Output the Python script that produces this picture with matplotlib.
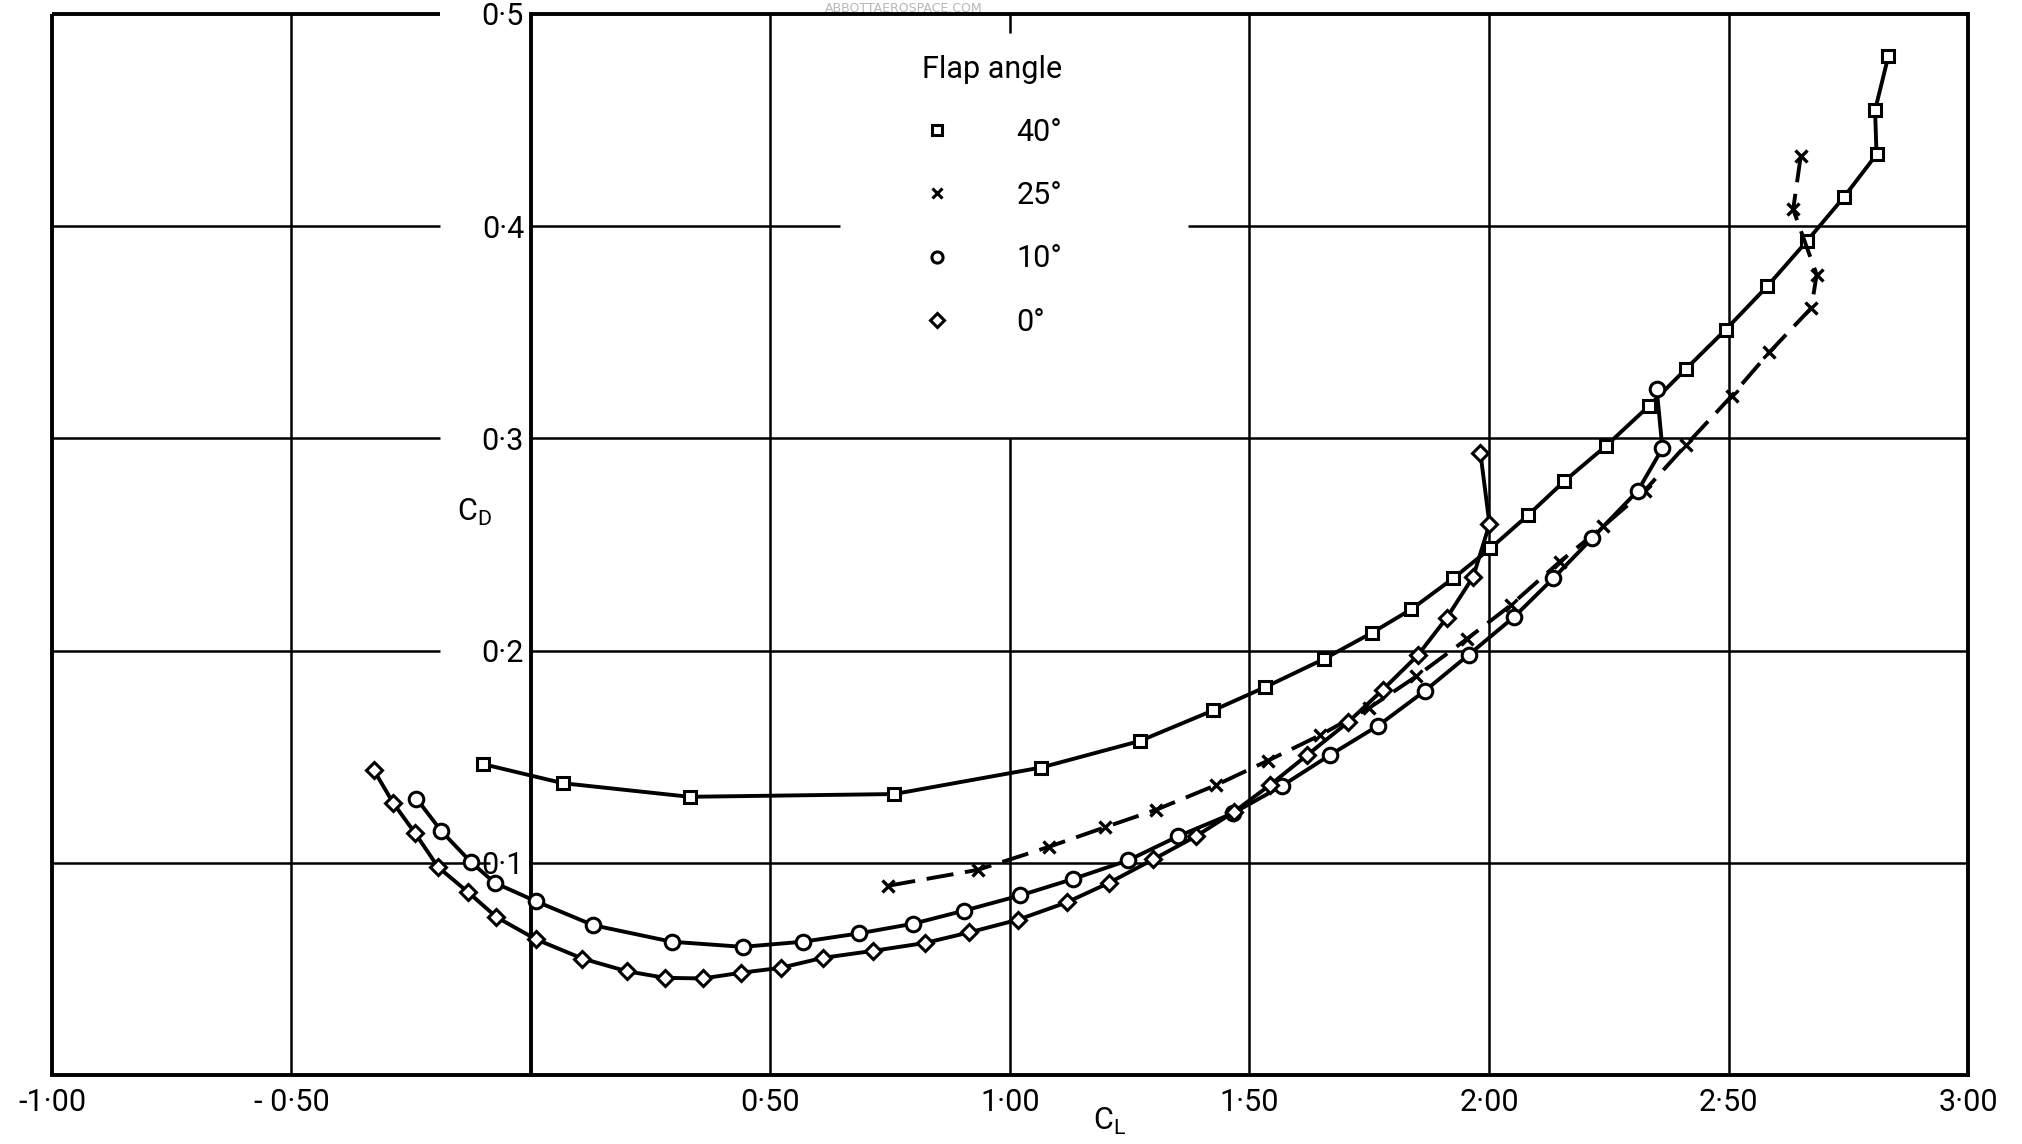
import matplotlib.pyplot as plt
from matplotlib.lines import Line2D

plt.rcParams['font.family'] = ['Roboto', 'DejaVu Sans']
plt.rcParams['mathtext.default'] = 'regular'

# lift / drag readings for each flap angle
cl_40 = [-0.100, 0.067, 0.331, 0.758, 1.065, 1.271, 1.424, 1.533, 1.656, 1.755, 1.838, 1.925,
         2.003, 2.081, 2.157, 2.244, 2.334, 2.411, 2.494, 2.581, 2.663, 2.741, 2.809, 2.806, 2.834]
cd_40 = [0.1465, 0.1375, 0.1311, 0.1324, 0.1449, 0.1574, 0.1718, 0.1828, 0.1961, 0.2083, 0.2195, 0.234,
         0.2482, 0.2637, 0.2798, 0.2964, 0.3153, 0.3327, 0.3512, 0.3717, 0.3928, 0.4137, 0.4338, 0.4547, 0.4804]

cl_25 = [0.746, 0.933, 1.081, 1.199, 1.305, 1.431, 1.539, 1.648, 1.750, 1.848, 1.954,
         2.045, 2.148, 2.238, 2.325, 2.411, 2.507, 2.585, 2.673, 2.684, 2.635, 2.651]
cd_25 = [0.0892, 0.0967, 0.1075, 0.1168, 0.125, 0.1367, 0.1482, 0.1602, 0.1730, 0.1878, 0.2055,
         0.2213, 0.2419, 0.2585, 0.2754, 0.2968, 0.3201, 0.3405, 0.3615, 0.3772, 0.4079, 0.4333]

cl_10 = [-0.239, -0.187, -0.126, -0.076, 0.010, 0.130, 0.294, 0.442, 0.567, 0.684, 0.798, 0.905, 1.021, 1.132,
         1.247, 1.351, 1.466, 1.568, 1.669, 1.769, 1.866, 1.958, 2.052, 2.134, 2.215, 2.311, 2.362, 2.350]
cd_10 = [0.1303, 0.1149, 0.1005, 0.0906, 0.0819, 0.0706, 0.0628, 0.0604, 0.0628, 0.0667, 0.0713, 0.0775, 0.0846, 0.0924,
         0.1012, 0.1125, 0.1234, 0.1363, 0.1509, 0.1647, 0.1810, 0.1981, 0.2158, 0.234, 0.2529, 0.2754, 0.2953, 0.3235]

cl_0 = [-0.328, -0.288, -0.242, -0.194, -0.132, -0.072, 0.010, 0.107, 0.200, 0.280, 0.359, 0.439, 0.521, 0.609, 0.714, 0.822,
        0.915, 1.017, 1.119, 1.207, 1.299, 1.389, 1.467, 1.543, 1.620, 1.706, 1.778, 1.851, 1.912, 1.967, 2.001, 1.982]
cd_0 = [0.1437, 0.1283, 0.114, 0.098, 0.0863, 0.0744, 0.064, 0.0549, 0.0489, 0.0458, 0.0455, 0.0482, 0.0505, 0.0552, 0.0585, 0.0622,
        0.0672, 0.0732, 0.0814, 0.0906, 0.1016, 0.1126, 0.1239, 0.1367, 0.1507, 0.1663, 0.1815, 0.1977, 0.2155, 0.2348, 0.2596, 0.2932]

x_ticks = [-1.0, -0.5, 0.0, 0.5, 1.0, 1.5, 2.0, 2.5, 3.0]
x_labels = ['-1\u00b700', '- 0\u00b750', '', '0\u00b750', '1\u00b700', '1\u00b750', '2\u00b700', '2\u00b750', '3\u00b700']
y_ticks = [0.1, 0.2, 0.3, 0.4, 0.5]
y_labels = ['0\u00b71', '0\u00b72', '0\u00b73', '0\u00b74', '0\u00b75']
legend_labels = ['40\u00b0', '25\u00b0', '10\u00b0', '0\u00b0']

fig = plt.figure(figsize=(20.22, 11.44), dpi=100)
ax = fig.add_axes([0.0257, 0.0603, 0.9476, 0.9275])
ax.set_xlim(-1, 3)
ax.set_ylim(0, 0.5)

# grid, with gaps left for the y labels and the key
k = dict(color='black', lw=1.8, zorder=1)
for y in [0.1, 0.2, 0.3, 0.4]:
    gap = -0.085 if y == 0.1 else -0.19
    ax.hlines(y, -1, gap, **k)
    if y == 0.4:
        ax.hlines(y, 0, 0.645, **k)
        ax.hlines(y, 1.372, 3, **k)
    else:
        ax.hlines(y, 0, 3, **k)
for x in [-0.5, 0.5, 1.5, 2.0, 2.5]:
    ax.vlines(x, 0, 0.5, **k)
ax.vlines(1.0, 0, 0.3, **k)
ax.vlines(1.0, 0.491, 0.5, **k)

# frame
ax.spines['top'].set_visible(False)
ax.spines['left'].set_position(('data', 0))
for s in ['left', 'bottom', 'right']:
    ax.spines[s].set_linewidth(2.8)
ax.hlines(0.5, -1, -0.19, color='black', lw=2.8, clip_on=False)
ax.hlines(0.5, 0, 3, color='black', lw=2.8, clip_on=False)
ax.vlines(-1, 0, 0.5, color='black', lw=2.8, clip_on=False)

ax.set_xticks(x_ticks, x_labels)
ax.set_yticks(y_ticks, y_labels)
ax.tick_params(axis='both', length=0, labelsize=22)
ax.tick_params(axis='x', pad=9)
ax.tick_params(axis='y', pad=5)

lw = 2.8
ax.plot(cl_40, cd_40, color='black', lw=lw, marker='s', ms=9, mfc='white', mec='black', mew=2.2, zorder=3)
ax.plot(cl_25, cd_25, color='black', lw=lw, dashes=(7, 3), marker='x', ms=9, mec='black', mew=2.4, zorder=3)
ax.plot(cl_10, cd_10, color='black', lw=lw, marker='o', ms=10.5, mfc='white', mec='black', mew=2.2, zorder=3)
ax.plot(cl_0, cd_0, color='black', lw=lw, marker='D', ms=8, mfc='white', mec='black', mew=2.2, zorder=3)

ax.text(1.207, -0.022, '$C_L$', fontsize=22, ha='center', va='center', clip_on=False)
ax.text(-0.117, 0.265, '$C_D$', fontsize=22, ha='center', va='center')

handles = [
    Line2D([], [], ls='none', marker='s', ms=7, mfc='white', mec='black', mew=2.2),
    Line2D([], [], ls='none', marker='x', ms=7, mec='black', mew=2.2),
    Line2D([], [], ls='none', marker='o', ms=8, mfc='white', mec='black', mew=2.2),
    Line2D([], [], ls='none', marker='D', ms=7, mfc='white', mec='black', mew=2.2),
]
leg = ax.legend(handles, legend_labels, title='Flap angle', loc='upper left',
                bbox_to_anchor=(0.446, 0.976), frameon=False, fontsize=22, title_fontsize=22,
                handlelength=1.0, handletextpad=2.1, labelspacing=1.12, borderpad=0,
                alignment='left')

fig.text(0.447, 0.9985, 'ABBOTTAEROSPACE.COM', fontsize=9, color='#b8b8b8',
         ha='center', va='top', family='DejaVu Sans')

fig.savefig('out.png', dpi=100)
